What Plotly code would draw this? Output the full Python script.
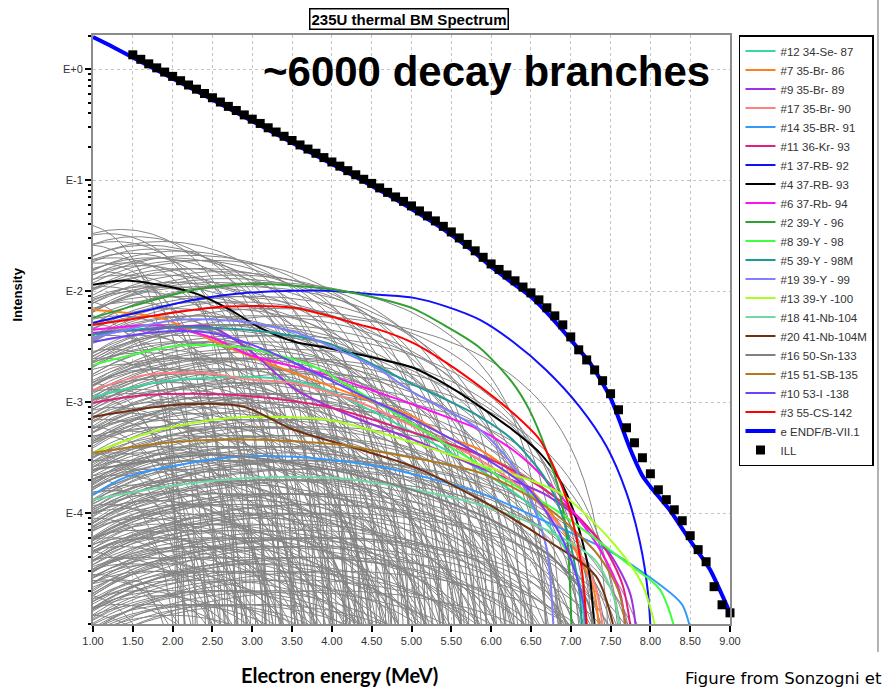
import numpy as np
import plotly.graph_objects as go

FONT = "Arial, 'Liberation Sans', sans-serif"

# ---------------- ILL measured aggregate spectrum ----------------
ill_energy = [1.5, 1.6, 1.7, 1.8, 1.9, 2.0, 2.1, 2.2, 2.3, 2.4,
              2.5, 2.6, 2.7, 2.8, 2.9, 3.0, 3.1, 3.2, 3.3, 3.4,
              3.5, 3.6, 3.7, 3.8, 3.9, 4.0, 4.1, 4.2, 4.3, 4.4,
              4.5, 4.6, 4.7, 4.8, 4.9, 5.0, 5.1, 5.2, 5.3, 5.4,
              5.5, 5.6, 5.7, 5.8, 5.9, 6.0, 6.1, 6.2, 6.3, 6.4,
              6.5, 6.6, 6.7, 6.8, 6.9, 7.0, 7.1, 7.2, 7.3, 7.4,
              7.5, 7.6, 7.7, 7.8, 7.9, 8.0, 8.1, 8.2, 8.3, 8.4,
              8.5, 8.6, 8.7, 8.8, 8.9, 9.0]
ill_intensity = [1.35, 1.23, 1.12, 1.03, 0.944, 0.863, 0.789, 0.722, 0.662, 0.605,
                 0.554, 0.507, 0.463, 0.425, 0.388, 0.355, 0.325, 0.297, 0.272, 0.249,
                 0.228, 0.208, 0.191, 0.175, 0.160, 0.146, 0.134, 0.122, 0.112, 0.102,
                 0.0936, 0.0853, 0.0777, 0.0707, 0.0645, 0.0587, 0.0529, 0.0477, 0.0430, 0.0384,
                 0.0342, 0.0302, 0.0264, 0.0231, 0.0202, 0.0176, 0.0157, 0.0140, 0.0124, 0.0109,
                 0.00966, 0.00835, 0.00708, 0.00599, 0.00497, 0.00387, 0.00296, 0.00240, 0.00195, 0.00156,
                 0.00119, 0.000853, 0.000587, 0.000430, 0.000315, 0.000226, 0.000162, 0.000132, 0.000107, 8.53e-5,
                 6.25e-5, 4.68e-5, 3.64e-5, 2.17e-5, 1.49e-5, 1.26e-5]

# ---------------- ENDF/B-VII.1 summation spectrum ----------------
endf_energy = [1.0, 1.25, 1.5, 1.75, 2.0, 2.25, 2.5, 2.75, 3.0, 3.25,
               3.5, 3.75, 4.0, 4.25, 4.5, 4.75, 5.0, 5.25, 5.5, 5.75,
               6.0, 6.25, 6.5, 6.75, 7.0, 7.25, 7.5, 7.75, 7.9, 8.0,
               8.25, 8.5, 8.75, 9.0]
endf_intensity = [1.95, 1.59, 1.28, 1.03, 0.826, 0.665, 0.531, 0.426, 0.341, 0.272,
                  0.218, 0.175, 0.140, 0.112, 0.0889, 0.0707, 0.0551, 0.0426, 0.0322, 0.0236,
                  0.0166, 0.0121, 0.00889, 0.00586, 0.00364, 0.00221, 0.00109, 0.000372, 0.000217, 0.000173,
                  0.000105, 5.63e-5, 3.08e-5, 1.26e-5]

# ---------------- leading fission products ----------------
se87_e = [1.0, 1.84, 2.94, 3.52, 3.94, 5.03, 5.86, 6.48, 6.9, 7.1, 7.2]
se87_i = [1.11e-3, 1.52e-3, 1.69e-3, 1.55e-3, 1.29e-3, 5.29e-4, 2.45e-4, 1.19e-4, 5.18e-5, 2.51e-5, 5e-6]
br86_e = [1.0, 1.84, 2.68, 3.52, 4.36, 5.03, 5.44, 5.86, 6.27, 6.69, 7.03, 7.28, 7.38]
br86_i = [6.78e-3, 5.75e-3, 3.15e-3, 1.84e-3, 1.11e-3, 7.37e-4, 4.87e-4, 3.72e-4, 2.31e-4, 1.14e-4, 4.97e-5, 2.16e-5, 5e-6]
br89_e = [1.0, 1.66, 2.47, 2.96, 3.55, 4.36, 5.03, 5.86, 6.69, 7.11, 7.5, 7.75, 7.85]
br89_i = [4.21e-3, 4.48e-3, 4.77e-3, 2.96e-3, 1.29e-3, 6.93e-4, 4.57e-4, 2.56e-4, 1.46e-4, 8.70e-5, 4.21e-5, 1.84e-5, 5e-6]
br90_e = [1.0, 1.66, 2.36, 3.0, 3.52, 4.36, 5.03, 5.86, 6.48, 7.0, 7.3, 7.45]
br90_i = [1.29e-3, 1.76e-3, 1.84e-3, 1.59e-3, 1.49e-3, 9.86e-4, 5.99e-4, 3.02e-4, 1.46e-4, 5.75e-5, 2.26e-5, 5e-6]
br91_e = [1.0, 1.42, 2.68, 3.52, 4.6, 5.86, 6.69, 7.5, 8.12, 8.4, 8.58]
br91_i = [1.46e-4, 2.12e-4, 3.15e-4, 3.22e-4, 2.61e-4, 1.52e-4, 8.35e-5, 4.48e-5, 2.26e-5, 1.49e-5, 5e-6]
kr93_e = [1.0, 1.66, 2.78, 3.94, 5.03, 5.86, 6.48, 7.0, 7.4, 7.65, 7.8]
kr93_i = [9.86e-4, 1.16e-3, 1.16e-3, 9.07e-4, 5.29e-4, 3.35e-4, 1.99e-4, 1.07e-4, 5.18e-5, 2.26e-5, 5e-6]
rb92_e = [1.0, 1.55, 2.27, 2.94, 3.94, 4.6, 5.03, 5.44, 5.86, 6.27, 6.69, 7.11, 7.45, 7.70, 7.87, 7.97, 8.02]
rb92_i = [5.18e-3, 6.38e-3, 8.36e-3, 9.66e-3, 1.01e-2, 9.26e-3, 8.70e-3, 7.26e-3, 5.51e-3, 3.52e-3,
          1.95e-3, 9.12e-4, 3.98e-4, 1.52e-4, 5.40e-5, 1.91e-5, 5e-6]
rb93_e = [1.0, 1.42, 2.27, 2.68, 3.10, 3.52, 3.94, 4.36, 4.6, 5.02, 5.44, 5.86, 6.27, 6.61, 6.86, 7.03, 7.15, 7.24, 7.32]
rb93_i = [1.14e-2, 1.25e-2, 9.66e-3, 7.08e-3, 4.67e-3, 3.52e-3, 3.08e-3, 2.67e-3, 2.44e-3, 2.04e-3,
          1.43e-3, 9.12e-4, 5.62e-4, 3.49e-4, 2.00e-4, 1.07e-4, 5.40e-5, 2.67e-5, 5e-6]
rb94_e = [1.0, 1.84, 2.5, 2.96, 3.94, 4.6, 5.03, 5.44, 5.86, 6.27, 6.69, 7.11, 7.37, 7.62, 7.72]
rb94_i = [4.48e-3, 4.87e-3, 3.80e-3, 2.67e-3, 1.76e-3, 1.21e-3, 9.46e-4, 7.37e-4, 5.63e-4, 3.72e-4,
          1.99e-4, 8.70e-5, 4.67e-5, 1.91e-5, 5e-6]
y96_e = [1.0, 1.55, 2.27, 3.02, 3.94, 4.6, 5.03, 5.44, 5.86, 6.27, 6.48, 6.69, 6.86, 6.96, 7.02]
y96_i = [5.75e-3, 7.53e-3, 1.03e-2, 1.16e-2, 1.05e-2, 8.53e-3, 6.93e-3, 4.80e-3, 3.08e-3, 1.49e-3,
         8.51e-4, 3.72e-4, 1.52e-4, 5.40e-5, 5e-6]
y98_e = [1.0, 2.06, 2.89, 3.73, 4.36, 5.03, 5.86, 6.86, 7.70, 8.12, 8.4]
y98_i = [2.16e-3, 3.22e-3, 3.09e-3, 2.16e-3, 1.21e-3, 6.24e-4, 2.72e-4, 1.01e-4, 3.57e-5, 2.04e-5, 5e-6]
y98m_e = [1.0, 1.84, 2.94, 3.94, 4.6, 5.03, 5.44, 5.86, 6.27, 6.69, 6.94, 7.11, 7.15]
y98m_i = [4.04e-3, 4.67e-3, 4.48e-3, 3.42e-3, 2.04e-3, 1.43e-3, 1.05e-3, 7.37e-4, 4.57e-4, 1.99e-4, 7.53e-5, 1.91e-5, 5e-6]
y99_e = [1.0, 2.06, 2.89, 3.52, 3.94, 4.6, 5.03, 5.44, 5.86, 6.27, 6.5, 6.7, 6.8]
y99_i = [3.80e-3, 5.51e-3, 5.29e-3, 4.30e-3, 3.28e-3, 1.95e-3, 1.21e-3, 8.52e-4, 5.63e-4, 2.72e-4, 1.32e-4, 4.67e-5, 5e-6]
y100_e = [1.0, 1.84, 2.76, 3.94, 5.03, 5.86, 6.48, 6.9, 7.53, 7.9, 8.15]
y100_i = [3.49e-4, 5.63e-4, 7.22e-4, 6.93e-4, 4.30e-4, 2.72e-4, 1.99e-4, 1.46e-4, 5.40e-5, 2.26e-5, 5e-6]
nb104_e = [1.0, 2.0, 3.0, 4.0, 4.78, 5.86, 6.69, 7.3, 7.55, 7.65]
nb104_i = [1.32e-4, 1.76e-4, 2.08e-4, 2.08e-4, 1.76e-4, 1.19e-4, 7.07e-5, 3.80e-5, 1.66e-5, 5e-6]
nb104m_e = [1.0, 2.06, 2.89, 3.52, 4.36, 5.03, 5.86, 6.69, 7.32, 7.62]
nb104m_i = [7.37e-4, 9.46e-4, 9.07e-4, 5.63e-4, 3.72e-4, 2.61e-4, 1.32e-4, 5.75e-5, 2.67e-5, 5e-6]
sn133_e = [1.0, 2.5, 4.0, 5.0, 6.0, 6.8, 7.2, 7.35]
sn133_i = [2.45e-4, 3.35e-4, 2.45e-4, 1.62e-4, 8.70e-5, 3.80e-5, 1.66e-5, 5e-6]
sb135_e = [1.0, 2.06, 3.1, 4.1, 4.6, 5.86, 6.69, 7.32, 7.61, 7.72]
sb135_i = [3.49e-4, 4.39e-4, 4.57e-4, 4.12e-4, 3.57e-4, 2.31e-4, 1.14e-4, 4.39e-5, 1.91e-5, 5e-6]
i138_e = [1.0, 1.84, 2.47, 3.0, 3.5, 4.36, 5.03, 5.86, 6.48, 6.9, 7.15, 7.22]
i138_i = [3.49e-3, 4.30e-3, 4.21e-3, 3.28e-3, 2.31e-3, 1.16e-3, 6.93e-4, 3.35e-4, 1.62e-4, 5.75e-5, 1.66e-5, 5e-6]
cs142_e = [1.0, 1.42, 2.27, 2.68, 3.52, 4.36, 4.6, 5.02, 5.44, 5.86, 6.27, 6.61, 6.82, 6.95, 7.07, 7.15, 7.23]
cs142_i = [4.97e-3, 5.51e-3, 6.79e-3, 7.26e-3, 7.08e-3, 4.97e-3, 4.48e-3, 3.42e-3, 2.26e-3, 1.38e-3,
           8.02e-4, 4.58e-4, 2.31e-4, 1.32e-4, 6.12e-5, 2.67e-5, 5e-6]

# (legend label, colour, energies, intensities) in legend order
nuclides = [
    ("#12 34-Se- 87", "#3cd6a0", se87_e, se87_i),
    ("#7 35-Br- 86", "#ff7f1e", br86_e, br86_i),
    ("#9 35-Br- 89", "#a030e0", br89_e, br89_i),
    ("#17 35-Br- 90", "#ff8080", br90_e, br90_i),
    ("#14 35-BR- 91", "#3399ff", br91_e, br91_i),
    ("#11 36-Kr- 93", "#e0207a", kr93_e, kr93_i),
    ("#1 37-RB- 92", "#1010ff", rb92_e, rb92_i),
    ("#4 37-RB- 93", "#000000", rb93_e, rb93_i),
    ("#6 37-Rb- 94", "#ff10f0", rb94_e, rb94_i),
    ("#2 39-Y - 96", "#30a030", y96_e, y96_i),
    ("#8 39-Y - 98", "#40ff40", y98_e, y98_i),
    ("#5 39-Y - 98M", "#209898", y98m_e, y98m_i),
    ("#19 39-Y - 99", "#8080ff", y99_e, y99_i),
    ("#13 39-Y -100", "#a8ff20", y100_e, y100_i),
    ("#18 41-Nb-104", "#70d8a0", nb104_e, nb104_i),
    ("#20 41-Nb-104M", "#703010", nb104m_e, nb104m_i),
    ("#16 50-Sn-133", "#808080", sn133_e, sn133_i),
    ("#15 51-SB-135", "#b07820", sb135_e, sb135_i),
    ("#10 53-I -138", "#7040ff", i138_e, i138_i),
    ("#3 55-CS-142", "#ff0000", cs142_e, cs142_i),
]

# ---------------- remaining decay branches (endpoint MeV, peak intensity) ----------------
gray_endpoint = [
    2.05, 2.10, 2.15, 2.20, 2.25, 2.30, 2.35, 2.40, 2.45, 2.50, 2.55, 2.60, 2.65, 2.70, 2.72, 2.75,
    2.80, 2.82, 2.85, 2.88, 2.90, 2.95, 2.97,
    3.00, 3.02, 3.05, 3.08, 3.10, 3.15, 3.18, 3.20, 3.25, 3.28, 3.30, 3.35, 3.38, 3.40, 3.45, 3.48,
    3.50, 3.52, 3.55, 3.60, 3.62, 3.65, 3.70, 3.72, 3.75, 3.80, 3.82, 3.85, 3.88, 3.90, 3.95, 3.97,
    4.00, 4.02, 4.05, 4.08, 4.10, 4.12, 4.15, 4.18, 4.20, 4.22, 4.25, 4.28, 4.30, 4.32, 4.35, 4.38,
    4.40, 4.42, 4.45, 4.48, 4.50, 4.52, 4.55, 4.58, 4.60, 4.62, 4.65, 4.68, 4.70, 4.72, 4.75, 4.78,
    4.80, 4.82, 4.85, 4.88, 4.90, 4.95,
    5.00, 5.02, 5.05, 5.08, 5.10, 5.12, 5.15, 5.18, 5.20, 5.22, 5.25, 5.28, 5.30, 5.32, 5.35, 5.38,
    5.40, 5.42, 5.45, 5.48, 5.50, 5.52, 5.55, 5.58, 5.60, 5.62, 5.65, 5.68, 5.70, 5.72, 5.75, 5.78,
    5.80, 5.82, 5.85, 5.88, 5.90, 5.95,
    6.00, 6.02, 6.05, 6.08, 6.10, 6.12, 6.15, 6.20, 6.22, 6.25, 6.28, 6.30, 6.35, 6.38, 6.40, 6.45,
    6.48, 6.50, 6.55, 6.58, 6.60, 6.65, 6.70, 6.75, 6.78, 6.80, 6.85, 6.90, 6.95,
    7.00, 7.05, 7.10, 7.15, 7.20, 7.25, 7.30, 7.35, 7.40, 7.45, 7.50, 7.55, 7.60, 7.65, 7.70, 7.75,
    7.80, 7.85, 7.90,
    8.00, 8.05, 8.12, 8.20, 8.28, 8.35, 8.45, 8.55,
    2.12, 2.18, 2.28, 2.38, 2.48, 2.58, 2.68, 2.78, 2.92, 2.99,
    3.03, 3.12, 3.22, 3.27, 3.32, 3.42, 3.47, 3.57, 3.63, 3.68, 3.73, 3.78, 3.83, 3.87, 3.93, 3.99,
    4.03, 4.07, 4.13, 4.17, 4.23, 4.27, 4.33, 4.37, 4.43, 4.47, 4.53, 4.57, 4.63, 4.67, 4.73, 4.77,
    4.83, 4.87, 4.93, 4.97,
    5.03, 5.07, 5.13, 5.17, 5.23, 5.27, 5.33, 5.37, 5.43, 5.47, 5.53, 5.57, 5.63, 5.67, 5.73, 5.77,
    5.83, 5.87, 5.93, 5.97,
    6.03, 6.07, 6.13, 6.17, 6.23, 6.27, 6.33, 6.37, 6.43, 6.47, 6.53, 6.57, 6.63, 6.67, 6.73, 6.77,
    6.83, 6.87, 6.93, 6.97,
    7.02, 7.08, 7.12, 7.18, 7.22, 7.28, 7.32, 7.38, 7.42, 7.48, 7.52, 7.58, 7.62, 7.68, 7.72, 7.78,
    7.82, 7.88,
    8.02, 8.08, 8.15, 8.25, 8.32, 8.40,
]
gray_peak = [
    3.9e-2, 8e-3, 2.2e-4, 1.5e-3, 4.5e-5, 2.6e-2, 6e-4, 1.2e-5, 5e-3, 9e-5, 1.8e-2, 3e-4, 2.5e-3, 2.5e-5, 1.1e-2, 7e-4,
    3.3e-2, 1.6e-4, 4e-3, 6e-5, 1.3e-3, 2e-2, 3.5e-4,
    2.8e-2, 9e-4, 1.5e-5, 6e-3, 2.2e-4, 3.6e-2, 5e-5, 1.4e-2, 1.1e-4, 2.2e-3, 5.5e-4, 3.5e-5, 2.2e-2, 8e-3, 3e-4, 1.2e-3,
    7e-5, 3.1e-2, 4e-3, 1.8e-4, 2e-5, 1.7e-2, 7e-4, 2.8e-3, 9e-5, 2.6e-2, 4e-4, 1.1e-2, 3e-5, 1.6e-3, 6e-3, 1.3e-4,
    2.4e-2, 2.5e-4, 1.8e-5, 3e-3, 9e-3, 6e-5, 1e-3, 2.8e-2, 4e-4, 1.4e-2, 1.5e-4, 5e-3, 3e-5, 2e-3, 6e-4, 2e-2,
    1e-4, 7e-3, 1.2e-5, 2.5e-3, 1.2e-2, 3e-4, 4.5e-5, 1.3e-3, 2.3e-2, 8e-4, 2e-4, 4e-3, 7e-5, 1.6e-2, 5e-4, 2.5e-5,
    9e-3, 1.8e-3, 1.2e-4, 1.9e-2, 3.5e-4, 6e-3,
    2.1e-2, 2e-4, 3.5e-3, 5e-5, 1.1e-2, 9e-4, 1.5e-5, 6e-3, 4e-4, 1.6e-2, 1.2e-4, 2.5e-3, 3e-5, 8e-3, 6e-4, 1.4e-3,
    1.9e-2, 8e-5, 3e-4, 4.5e-3, 2e-5, 1.2e-2, 1.1e-3, 2e-4, 7e-3, 5e-5, 2e-3, 1.5e-2, 5e-4, 1e-4, 3.5e-3, 9e-3,
    3e-5, 7e-4, 1.3e-2, 1.5e-4, 2.8e-3, 5e-3,
    1.4e-2, 3e-4, 2.5e-3, 4e-5, 8e-3, 1e-3, 1.2e-4, 5e-3, 2e-5, 1.1e-2, 6e-4, 2e-3, 7e-5, 4e-3, 2.5e-4, 9e-3,
    1.5e-3, 3e-5, 4e-4, 6e-3, 1e-4, 2.5e-3, 7e-4, 1.2e-2, 5e-5, 3.5e-3, 2e-4, 1.1e-3, 7e-3,
    2e-3, 1.5e-4, 6e-4, 3e-5, 4e-3, 3e-4, 1.2e-3, 8e-5, 2.5e-3, 5e-4, 1.5e-4, 6e-3, 4e-5, 9e-4, 2.5e-4, 1.8e-3,
    7e-5, 4e-4, 1.2e-4,
    6e-4, 1.5e-4, 3e-4, 6e-5, 2e-4, 4e-5, 1e-4, 3e-5,
    1.8e-5, 6e-3, 3.5e-4, 1.1e-3, 2.8e-5, 5e-4, 1.5e-2, 1.2e-4, 3e-3, 4e-5,
    1.6e-4, 2.5e-5, 4.5e-3, 8e-4, 1.8e-2, 6e-5, 2.5e-4, 1e-2, 1.3e-3, 4e-5, 3.5e-4, 5e-3, 1.5e-5, 9e-4, 2e-2, 6e-5,
    1.3e-4, 2e-3, 3.5e-5, 6e-4, 5e-3, 8e-5, 1.1e-2, 2e-5, 1.5e-3, 2.5e-4, 4e-5, 3.5e-3, 1.5e-5, 7e-4, 1.6e-4, 9e-5,
    2.5e-3, 5e-5, 1.1e-3, 2e-4,
    8e-5, 1.6e-3, 2.5e-4, 4e-5, 1e-3, 6e-5, 3e-4, 1.5e-5, 5e-3, 1.5e-4, 2.5e-5, 8e-4, 3.5e-4, 7e-5, 2.5e-3, 2e-5,
    1.2e-4, 4e-4, 6e-5, 1.5e-3,
    1.5e-5, 5e-4, 8e-5, 3e-3, 1.8e-4, 3.5e-5, 1.2e-3, 1.3e-4, 2.5e-5, 6e-4, 6e-5, 2e-3, 3e-4, 1.5e-5, 9e-5, 5e-3,
    4e-4, 3.5e-5, 1.5e-4, 2.5e-3,
    6e-5, 1e-3, 2e-4, 2e-5, 5e-4, 1e-4, 3e-3, 3.5e-4, 5e-5, 1.5e-3, 2e-4, 2.5e-5, 7e-4, 1e-4, 4e-5, 3e-4,
    1.2e-3, 6e-5,
    2.5e-4, 5e-5, 1.2e-4, 3e-4, 2e-5, 6e-5,
]
assert len(gray_endpoint) == len(gray_peak)

ME = 0.511  # electron rest mass, MeV


def allowed_shape(e0, t):
    """Allowed beta spectrum p*W*(E0-T)^2 for kinetic energy t (MeV)."""
    w = t + ME
    p = np.sqrt(w * w - ME * ME)
    return p * w * np.clip(e0 - t, 0.0, None) ** 2


gx, gy = [], []
for e0, pk in zip(gray_endpoint, gray_peak):
    t = np.linspace(1.0, e0, 70)
    n = allowed_shape(e0, t)
    y = pk * n / n.max()
    y[-1] = 1e-7
    gx += t.tolist() + [None]
    gy += y.tolist() + [None]

fig = go.Figure()

fig.add_trace(go.Scatter(
    x=gx, y=gy, mode="lines", showlegend=False, hoverinfo="skip",
    line=dict(color="rgb(132,132,132)", width=1),
))

for label, color, e, i in nuclides:
    fig.add_trace(go.Scatter(
        x=e, y=i, mode="lines", name=label,
        line=dict(color=color, width=2, shape="spline", smoothing=0.8),
    ))

fig.add_trace(go.Scatter(
    x=endf_energy, y=endf_intensity, mode="lines", name="e ENDF/B-VII.1",
    line=dict(color="#0000ff", width=4, shape="spline", smoothing=0.6),
))
fig.add_trace(go.Scatter(
    x=ill_energy, y=ill_intensity, mode="markers", name="ILL", cliponaxis=False,
    marker=dict(symbol="square", size=9, color="black"),
))

axis_common = dict(
    showline=True, linecolor="#8c8c8c", linewidth=2, mirror=True,
    showgrid=True, gridcolor="#c4c4c4", griddash="dot", gridwidth=1,
    ticks="outside", tickcolor="black", tickwidth=1.5, ticklen=6,
    tickfont=dict(family=FONT, size=11, color="#333333"),
    zeroline=False,
)

fig.update_xaxes(
    range=[1.0, 9.0], tick0=1.0, dtick=0.5, tickformat=".2f", **axis_common,
)
fig.update_yaxes(
    type="log", range=[-5, 0.309],
    tickmode="array",
    tickvals=[1e-4, 1e-3, 1e-2, 1e-1, 1],
    ticktext=["E-4", "E-3", "E-2", "E-1", "E+0"],
    minor=dict(ticks="outside", ticklen=3, tickcolor="black", dtick="D1", showgrid=False),
    **axis_common,
)

fig.update_layout(
    width=882, height=691, autosize=False,
    margin=dict(l=93, r=152, t=35, b=67, pad=0, autoexpand=False),
    paper_bgcolor="white", plot_bgcolor="white",
    font=dict(family=FONT, color="#333333"),
    legend=dict(
        x=1.0141, y=1.0, xanchor="left", yanchor="top",
        bgcolor="white", bordercolor="black", borderwidth=1.5,
        font=dict(family=FONT, size=11.5, color="#333333"),
        itemwidth=30, tracegroupgap=0,
    ),
    annotations=[
        dict(text="<b>235U thermal BM Spectrum</b>", xref="paper", yref="paper",
             x=0.496, y=1.0272, xanchor="center", yanchor="middle", showarrow=False,
             font=dict(family=FONT, size=15, color="black"),
             bordercolor="black", borderwidth=1.5, borderpad=1, bgcolor="white"),
        dict(text="<b>~6000 decay branches</b>", xref="paper", yref="paper",
             x=0.617, y=0.9372, xanchor="center", yanchor="middle", showarrow=False,
             font=dict(family=FONT, size=42, color="black")),
        dict(text="<b>Intensity</b>", xref="paper", yref="paper",
             x=-0.118, y=0.559, xanchor="center", yanchor="middle", showarrow=False, textangle=-90,
             font=dict(family=FONT, size=13, color="black")),
        dict(text="<b>Electron energy (MeV)</b>", xref="paper", yref="paper",
             x=0.387, y=-0.0866, xanchor="center", yanchor="middle", showarrow=False,
             font=dict(family="Lato, sans-serif", size=20, color="black")),
        dict(text="Figure from Sonzogni et", xref="paper", yref="paper",
             x=0.926, y=-0.0917, xanchor="left", yanchor="middle", showarrow=False,
             font=dict(family="DejaVu Sans, sans-serif", size=16.5, color="black")),
    ],
    shapes=[
        dict(type="line", xref="paper", yref="paper",
             x0=1.2323, x1=1.2323, y0=1.06, y1=-0.0475,
             line=dict(color="#9a9a9a", width=1.5)),
    ],
)

fig.write_html("out.html")
